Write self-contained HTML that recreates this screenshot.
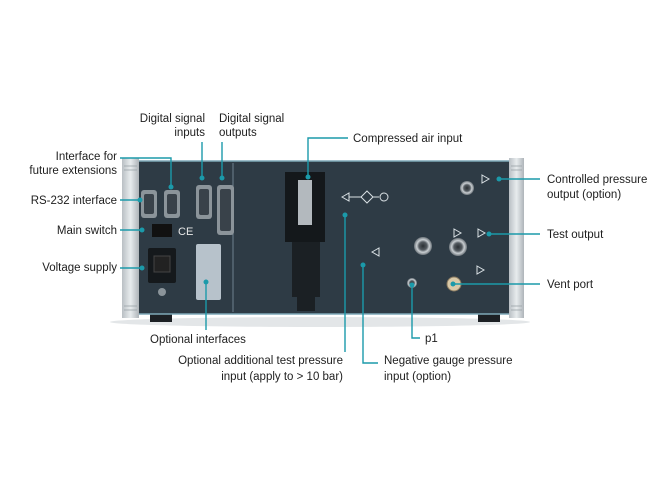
<!DOCTYPE html>
<html><head><meta charset="utf-8"><style>
html,body{margin:0;padding:0;background:#fff;}
svg{display:block;}
text{font-family:"Liberation Sans",sans-serif;font-size:11.5px;fill:#1e1e1e;}
</style></head><body>
<svg width="653" height="495" viewBox="0 0 653 495" xmlns="http://www.w3.org/2000/svg">
<defs>
<linearGradient id="hd" x1="0" x2="1"><stop offset="0" stop-color="#b9bfc4"/><stop offset="0.5" stop-color="#e8ecee"/><stop offset="1" stop-color="#aeb4b9"/></linearGradient>
<radialGradient id="port"><stop offset="0" stop-color="#2a2f33"/><stop offset="0.45" stop-color="#555c62"/><stop offset="0.7" stop-color="#c9ced2"/><stop offset="1" stop-color="#6d757b"/></radialGradient>
</defs>
<!-- shadow -->
<ellipse cx="320" cy="322" rx="210" ry="5" fill="#e3e6e8"/>
<!-- feet -->
<rect x="150" y="312" width="22" height="10" fill="#1c2024"/>
<rect x="478" y="312" width="22" height="10" fill="#1c2024"/>
<!-- panel -->
<rect x="138" y="161" width="374" height="153" fill="#2e3b45"/>
<rect x="138" y="161" width="374" height="153" fill="none" stroke="#7fa9b8" stroke-width="1.5"/>
<line x1="233" y1="163" x2="233" y2="312" stroke="#6f8290" stroke-width="1"/>
<!-- handles -->
<rect x="122" y="158" width="17" height="160" fill="url(#hd)"/>
<rect x="509" y="158" width="15" height="160" fill="url(#hd)"/>
<g stroke="#9aa2a8" stroke-width="0.8">
<line x1="124" y1="166" x2="137" y2="166"/><line x1="124" y1="170" x2="137" y2="170"/><line x1="124" y1="306" x2="137" y2="306"/><line x1="124" y1="310" x2="137" y2="310"/>
<line x1="511" y1="166" x2="522" y2="166"/><line x1="511" y1="170" x2="522" y2="170"/><line x1="511" y1="306" x2="522" y2="306"/><line x1="511" y1="310" x2="522" y2="310"/>
</g>
<!-- DB9 connectors -->
<rect x="141" y="190" width="16" height="28" rx="3" fill="#8b949a"/>
<rect x="164" y="190" width="16" height="28" rx="3" fill="#8b949a"/>
<rect x="196" y="185" width="16" height="34" rx="3" fill="#8b949a"/>
<rect x="217" y="185" width="17" height="50" rx="3" fill="#8b949a"/>
<rect x="144" y="194" width="10" height="20" rx="2" fill="#39424a"/>
<rect x="167" y="194" width="10" height="20" rx="2" fill="#39424a"/>
<rect x="199" y="189" width="10" height="26" rx="2" fill="#39424a"/>
<rect x="220" y="189" width="11" height="42" rx="2" fill="#39424a"/>
<!-- switch -->
<rect x="152" y="224" width="20" height="13" fill="#111"/>
<text x="178" y="235" style="font-size:11px;fill:#e8e8e8">CE</text>
<!-- power inlet -->
<rect x="148" y="248" width="28" height="35" rx="2" fill="#15191c"/>
<rect x="154" y="256" width="16" height="16" fill="#222" stroke="#444"/>
<circle cx="162" cy="292" r="4" fill="#8b949a"/>
<!-- optional interface slot -->
<rect x="196" y="244" width="25" height="56" rx="2" fill="#b7c2cb"/>
<!-- regulator -->
<rect x="285" y="172" width="40" height="70" fill="#14181b"/>
<rect x="298" y="180" width="14" height="45" fill="#b3b9be"/>
<rect x="292" y="242" width="28" height="55" fill="#1b2024"/>
<rect x="297" y="297" width="18" height="14" fill="#1b2024"/>
<!-- symbols -->
<g stroke="#d9e0e4" fill="none" stroke-width="1">
<path d="M342 197 l7 -4 v8 z"/><line x1="349" y1="197" x2="362" y2="197"/><path d="M367 191 l6 6 l-6 6 l-6 -6 z"/><line x1="373" y1="197" x2="379" y2="197"/><circle cx="384" cy="197" r="4"/>
<path d="M482 175 l7 4 l-7 4 z"/><path d="M478 229 l7 4 l-7 4 z"/><path d="M454 229 l7 4 l-7 4 z"/><path d="M477 266 l7 4 l-7 4 z"/><path d="M372 252 l7 -4 v8 z"/>
</g>
<!-- ports -->
<circle cx="467" cy="188" r="7" fill="url(#port)"/>
<circle cx="423" cy="246" r="9" fill="url(#port)"/>
<circle cx="458" cy="247" r="9" fill="url(#port)"/>
<circle cx="412" cy="283" r="5" fill="url(#port)"/>
<circle cx="454" cy="284" r="7" fill="#d9c9a8" stroke="#8a7a60"/>
<!-- leader lines -->
<g stroke="#1b9aaa" stroke-width="1.4" fill="none">
<polyline points="120,158 171,158 171,187"/>
<line x1="120" y1="200" x2="140" y2="200"/>
<line x1="120" y1="230" x2="142" y2="230"/>
<line x1="120" y1="268" x2="142" y2="268"/>
<line x1="202" y1="142" x2="202" y2="178"/>
<line x1="222" y1="142" x2="222" y2="178"/>
<polyline points="348,138 308,138 308,177"/>
<line x1="499" y1="179" x2="540" y2="179"/>
<line x1="489" y1="234" x2="540" y2="234"/>
<line x1="453" y1="284" x2="540" y2="284"/>
<line x1="206" y1="282" x2="206" y2="330"/>
<line x1="345" y1="215" x2="345" y2="352"/>
<polyline points="363,265 363,363 378,363"/>
<polyline points="412,285 412,338 420,338"/>
</g>
<g fill="#1b9aaa">
<circle cx="171" cy="187" r="2.5"/><circle cx="140" cy="200" r="2.5"/><circle cx="142" cy="230" r="2.5"/><circle cx="142" cy="268" r="2.5"/>
<circle cx="202" cy="178" r="2.5"/><circle cx="222" cy="178" r="2.5"/><circle cx="308" cy="177" r="2.5"/>
<circle cx="499" cy="179" r="2.5"/><circle cx="489" cy="234" r="2.5"/><circle cx="453" cy="284" r="2.5"/>
<circle cx="206" cy="282" r="2.5"/><circle cx="345" cy="215" r="2.5"/><circle cx="363" cy="265" r="2.5"/><circle cx="412" cy="285" r="2.5"/>
</g>
<!-- labels -->
<g text-anchor="end">
<text x="117" y="160">Interface for</text>
<text x="117" y="174">future extensions</text>
<text x="117" y="204">RS-232 interface</text>
<text x="117" y="234">Main switch</text>
<text x="117" y="271">Voltage supply</text>
<text x="205" y="122">Digital signal</text>
<text x="205" y="136">inputs</text>
<text x="343" y="364">Optional additional test pressure</text>
<text x="343" y="380">input (apply to &gt; 10 bar)</text>
</g>
<text x="219" y="122">Digital signal</text>
<text x="219" y="136">outputs</text>
<text x="353" y="142">Compressed air input</text>
<text x="547" y="183">Controlled pressure</text>
<text x="547" y="198">output (option)</text>
<text x="547" y="238">Test output</text>
<text x="547" y="288">Vent port</text>
<text x="150" y="343">Optional interfaces</text>
<text x="425" y="342">p1</text>
<text x="384" y="364">Negative gauge pressure</text>
<text x="384" y="380">input (option)</text>
</svg>
</body></html>
